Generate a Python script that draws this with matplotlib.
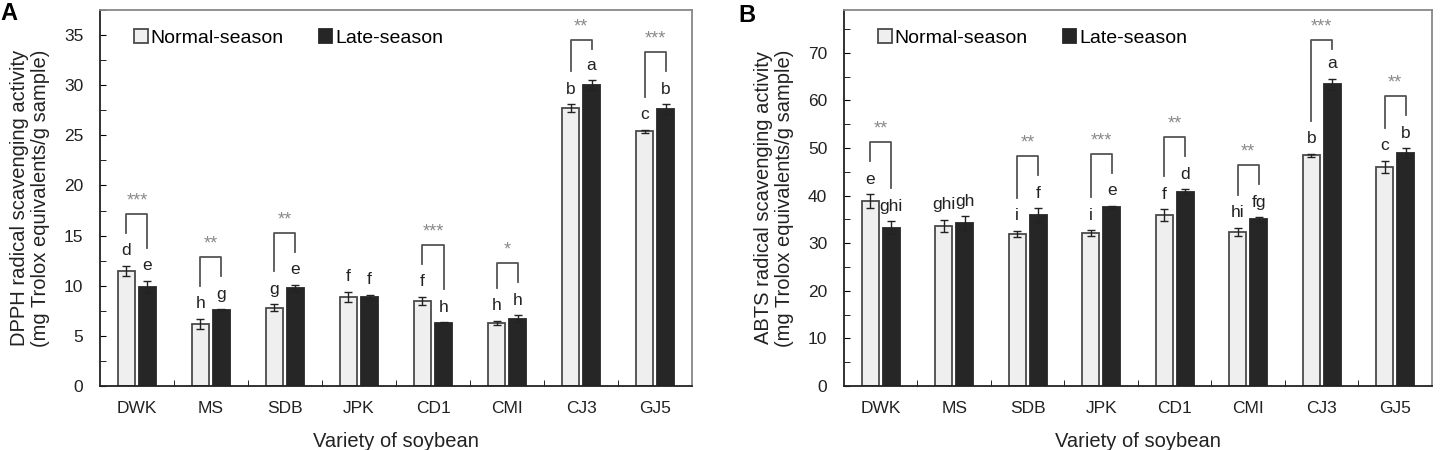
import numpy as np
import matplotlib.pyplot as plt
from matplotlib.ticker import MultipleLocator, FixedLocator

plt.rcParams['font.family'] = ['Liberation Sans', 'DejaVu Sans']

# data
varieties = ['DWK', 'MS', 'SDB', 'JPK', 'CD1', 'CMI', 'CJ3', 'GJ5']

dpph_normal = [11.5, 6.2, 7.8, 8.9, 8.5, 6.3, 27.7, 25.4]
dpph_normal_err = [0.5, 0.5, 0.35, 0.5, 0.4, 0.2, 0.4, 0.15]
dpph_late = [9.9, 7.6, 9.8, 8.9, 6.3, 6.7, 30.0, 27.6]
dpph_late_err = [0.6, 0.05, 0.3, 0.2, 0.05, 0.35, 0.5, 0.5]
dpph_let_normal = ['d', 'h', 'g', 'f', 'f', 'h', 'b', 'c']
dpph_let_late = ['e', 'g', 'e', 'f', 'h', 'h', 'a', 'b']
dpph_sig = ['***', '**', '**', '', '***', '*', '**', '***']

abts_normal = [38.8, 33.6, 32.0, 32.1, 35.9, 32.4, 48.5, 46.0]
abts_normal_err = [1.5, 1.3, 0.6, 0.6, 1.2, 0.9, 0.3, 1.3]
abts_late = [33.3, 34.2, 35.9, 37.6, 40.8, 35.0, 63.4, 48.9]
abts_late_err = [1.3, 1.5, 1.4, 0.3, 0.5, 0.5, 1.2, 1.1]
abts_let_normal = ['e', 'ghi', 'i', 'i', 'f', 'hi', 'b', 'c']
abts_let_late = ['ghi', 'gh', 'f', 'e', 'd', 'fg', 'a', 'b']
abts_sig = ['**', '', '**', '***', '**', '**', '***', '**']


def panel(ax, normal, nerr, late, lerr, let_n, let_l, sig, ymax, ystep, ylabel):
    x = np.arange(len(varieties))
    w = 0.23
    d = 0.142
    ax.bar(x - d, normal, w, color='#efefef', edgecolor='#4a4a4a', linewidth=1.3,
           label='Normal-season', zorder=2)
    ax.bar(x + d, late, w, color='#262626', edgecolor='#262626', linewidth=1.3,
           label='Late-season', zorder=2)
    ax.errorbar(x - d, normal, yerr=nerr, fmt='none', ecolor='#222222', elinewidth=1,
                capsize=3, capthick=1, zorder=3)
    ax.errorbar(x + d, late, yerr=lerr, fmt='none', ecolor='#222222', elinewidth=1,
                capsize=3, capthick=1, zorder=3)

    px = ymax / 376.0  # data units per pixel
    for i in range(len(varieties)):
        yn = normal[i] + nerr[i] + 15 * px
        yl = late[i] + lerr[i] + 15 * px
        ax.text(x[i] - d, yn, let_n[i], ha='center', va='center', fontsize=12.5, color='#222222')
        ax.text(x[i] + d, yl, let_l[i], ha='center', va='center', fontsize=12.5, color='#222222')
        if sig[i]:
            ln = yn + 18 * px
            ll = yl + 18 * px
            top = min(max(ln, ll) + 19 * px, ymax - 30 * px)
            ln = min(ln, top - 9 * px)
            ll = min(ll, top - 9 * px)
            ax.plot([x[i] - d, x[i] - d, x[i] + d, x[i] + d], [ln, top, top, ll],
                    color='#555555', lw=1.3, clip_on=False)
            ax.text(x[i], top + 13 * px, sig[i], ha='center', va='center', fontsize=13,
                    color='#8a8a8a')

    ax.set_xlim(-0.5, len(varieties) - 0.5)
    ax.set_ylim(0, ymax)
    ax.set_xticks(x)
    ax.set_xticklabels(varieties, fontsize=12.5, color='#222222')
    ax.xaxis.set_minor_locator(FixedLocator(np.arange(0.5, len(varieties) - 1, 1)))
    ax.tick_params(axis='x', which='major', length=0, pad=11)
    ax.tick_params(axis='x', which='minor', direction='in', length=4)
    ax.yaxis.set_major_locator(MultipleLocator(ystep))
    ax.yaxis.set_minor_locator(MultipleLocator(ystep / 2))
    ax.tick_params(axis='y', which='both', direction='in', length=4, labelsize=12.5,
                   labelcolor='#222222', pad=12)
    for s in ['top', 'right']:
        ax.spines[s].set_color('#888888')
        ax.spines[s].set_linewidth(1.3)
    for s in ['left', 'bottom']:
        ax.spines[s].set_color('#222222')
        ax.spines[s].set_linewidth(1.3)
    ax.set_xlabel('Variety of soybean', fontsize=14.5, color='#222222', labelpad=11)
    ax.set_ylabel(ylabel, fontsize=14.5, color='#222222', labelpad=10, linespacing=1.15)
    ax.legend(loc='upper left', bbox_to_anchor=(0.028, 0.995), ncol=2, frameon=False,
              fontsize=14, handlelength=0.7, handleheight=0.7, handletextpad=0.15,
              columnspacing=1.8)


fig = plt.figure(figsize=(14.4, 4.5), dpi=100)
axA = fig.add_axes([0.0694, 0.1422, 0.4112, 0.8356])
axB = fig.add_axes([0.5861, 0.1422, 0.4083, 0.8356])

panel(axA, dpph_normal, dpph_normal_err, dpph_late, dpph_late_err,
      dpph_let_normal, dpph_let_late, dpph_sig, 37.5, 5,
      'DPPH radical scavenging activity\n(mg Trolox equivalents/g sample)')
panel(axB, abts_normal, abts_normal_err, abts_late, abts_late_err,
      abts_let_normal, abts_let_late, abts_sig, 79, 10,
      'ABTS radical scavenging activity\n(mg Trolox equivalents/g sample)')

fig.text(0.0, 0.97, 'A', fontsize=17, fontweight='bold', va='center', ha='left')
fig.text(0.513, 0.965, 'B', fontsize=17, fontweight='bold', va='center', ha='left')

fig.savefig('out.png', dpi=100)
